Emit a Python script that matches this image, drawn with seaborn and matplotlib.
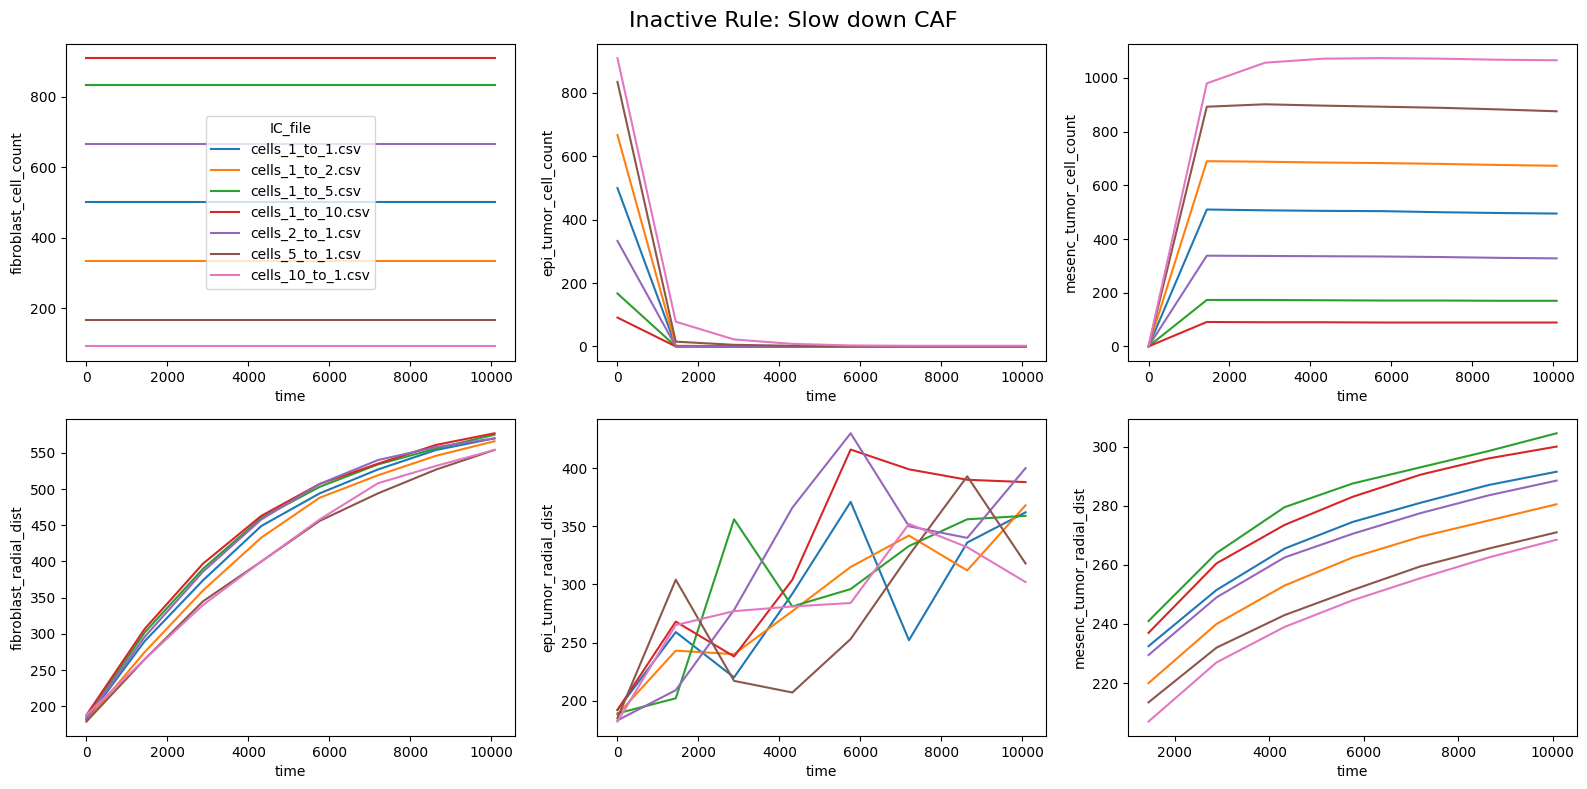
import numpy as np
import pandas as pd
import matplotlib
matplotlib.use("Agg")
import matplotlib.pyplot as plt
import seaborn as sns

# simulation output, one value per time point and initial-condition file
time = [0, 1440, 2880, 4320, 5760, 7200, 8640, 10080]
ic_files = ["cells_1_to_1.csv", "cells_1_to_2.csv", "cells_1_to_5.csv", "cells_1_to_10.csv",
            "cells_2_to_1.csv", "cells_5_to_1.csv", "cells_10_to_1.csv"]

fibroblast_cell_count = {
    "cells_1_to_1.csv": [500] * 8,
    "cells_1_to_2.csv": [333] * 8,
    "cells_1_to_5.csv": [835] * 8,
    "cells_1_to_10.csv": [910] * 8,
    "cells_2_to_1.csv": [667] * 8,
    "cells_5_to_1.csv": [167] * 8,
    "cells_10_to_1.csv": [91] * 8,
}

epi_tumor_cell_count = {
    "cells_1_to_1.csv": [500, 1, 0, 0, 0, 0, 0, 0],
    "cells_1_to_2.csv": [667, 2, 1, 0, 0, 0, 0, 0],
    "cells_1_to_5.csv": [167, 0, 0, 0, 0, 0, 0, 0],
    "cells_1_to_10.csv": [91, 0, 0, 0, 0, 0, 0, 0],
    "cells_2_to_1.csv": [333, 0, 0, 0, 0, 0, 0, 0],
    "cells_5_to_1.csv": [835, 15, 5, 2, 1, 1, 1, 1],
    "cells_10_to_1.csv": [910, 78, 22, 8, 3, 2, 2, 2],
}

mesenc_tumor_cell_count = {
    "cells_1_to_1.csv": [0, 510, 507, 505, 504, 500, 497, 495],
    "cells_1_to_2.csv": [0, 690, 688, 685, 683, 680, 676, 673],
    "cells_1_to_5.csv": [0, 173, 173, 172, 171, 171, 170, 170],
    "cells_1_to_10.csv": [0, 91, 90, 90, 89, 89, 89, 89],
    "cells_2_to_1.csv": [0, 338, 337, 336, 335, 333, 330, 328],
    "cells_5_to_1.csv": [0, 893, 902, 897, 893, 889, 883, 876],
    "cells_10_to_1.csv": [0, 980, 1057, 1072, 1074, 1072, 1068, 1066],
}

fibroblast_radial_dist = {
    "cells_1_to_1.csv": [182, 290, 374, 449, 494, 527, 554, 570],
    "cells_1_to_2.csv": [180, 275, 360, 433, 488, 519, 546, 566],
    "cells_1_to_5.csv": [185, 302, 390, 460, 503, 534, 556, 575],
    "cells_1_to_10.csv": [188, 307, 397, 463, 507, 535, 561, 577],
    "cells_2_to_1.csv": [183, 296, 386, 458, 507, 540, 558, 570],
    "cells_5_to_1.csv": [179, 265, 345, 400, 456, 494, 527, 554],
    "cells_10_to_1.csv": [188, 265, 340, 400, 458, 508, 532, 554],
}

epi_tumor_radial_dist = {
    "cells_1_to_1.csv": [192, 259, 220, 292, 371, 252, 336, 362],
    "cells_1_to_2.csv": [188, 243, 240, 277, 315, 342, 312, 368],
    "cells_1_to_5.csv": [189, 202, 356, 281, 296, 333, 356, 359],
    "cells_1_to_10.csv": [192, 268, 238, 304, 416, 399, 390, 388],
    "cells_2_to_1.csv": [183, 209, 278, 366, 430, 350, 340, 400],
    "cells_5_to_1.csv": [185, 304, 217, 207, 253, 325, 393, 318],
    "cells_10_to_1.csv": [182, 265, 277, 281, 284, 352, 332, 302],
}

# no mesenchymal cells at t=0, so no radial distance there
mesenc_tumor_radial_dist = {
    "cells_1_to_1.csv": [np.nan, 232.5, 251.5, 265.5, 274.5, 281, 287, 291.5],
    "cells_1_to_2.csv": [np.nan, 220, 240, 253, 262.5, 269.5, 275, 280.5],
    "cells_1_to_5.csv": [np.nan, 241, 264, 279.5, 287.5, 293, 298.5, 304.5],
    "cells_1_to_10.csv": [np.nan, 237, 260.5, 273.5, 283, 290.5, 296, 300],
    "cells_2_to_1.csv": [np.nan, 229.5, 249, 262.5, 270.5, 277.5, 283.5, 288.5],
    "cells_5_to_1.csv": [np.nan, 213.5, 232, 243, 251.5, 259.5, 265.5, 271],
    "cells_10_to_1.csv": [np.nan, 207, 227, 239, 248, 255.5, 262.5, 268.5],
}

metrics = {
    "fibroblast_cell_count": fibroblast_cell_count,
    "epi_tumor_cell_count": epi_tumor_cell_count,
    "mesenc_tumor_cell_count": mesenc_tumor_cell_count,
    "fibroblast_radial_dist": fibroblast_radial_dist,
    "epi_tumor_radial_dist": epi_tumor_radial_dist,
    "mesenc_tumor_radial_dist": mesenc_tumor_radial_dist,
}

# long-form table
rows = []
for ic in ic_files:
    for i, t in enumerate(time):
        row = {"IC_file": ic, "time": t}
        for name, vals in metrics.items():
            row[name] = vals[ic][i]
        rows.append(row)
df = pd.DataFrame(rows)

fig, axes = plt.subplots(2, 3, figsize=(15.87, 7.89), dpi=100)

for ax, name in zip(axes.flat, metrics):
    sns.lineplot(data=df, x="time", y=name, hue="IC_file", hue_order=ic_files,
                 palette="tab10", errorbar=None, ax=ax, legend=(name == "fibroblast_cell_count"))

axes[0, 0].legend(title="IC_file", loc="center")

fig.suptitle("Inactive Rule: Slow down CAF", fontsize=16, y=0.966, va="baseline")
fig.subplots_adjust(left=0.0416, right=0.9937, top=0.9446, bottom=0.0672,
                    wspace=0.183, hspace=0.183)
plt.savefig("out.png", dpi=100)
